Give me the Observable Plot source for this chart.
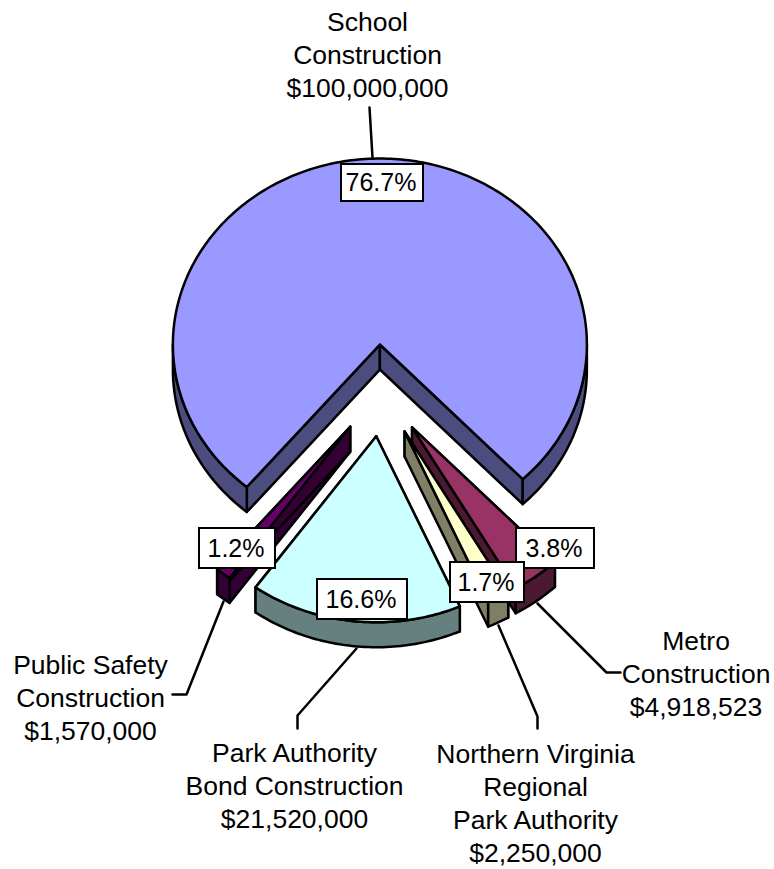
<!DOCTYPE html>
<html>
<head>
<meta charset="utf-8">
<script src="https://cdn.jsdelivr.net/npm/d3@7"></script>
<script src="https://cdn.jsdelivr.net/npm/@observablehq/plot@0.6"></script>
<style>html,body{margin:0;padding:0;background:#fff}svg{display:block}</style>
</head>
<body>
<div id="chart"></div>
<script>
// Data
const categories = ["School Construction", "Metro Construction", "Northern Virginia Regional Park Authority", "Park Authority Bond Construction", "Public Safety Construction"];
const amounts = [100000000, 4918523, 2250000, 21520000, 1570000];
const percentLabels = ["76.7%", "3.8%", "1.7%", "16.6%", "1.2%"];
const nameLabels = ["School\nConstruction\n$100,000,000", "Metro\nConstruction\n$4,918,523", "Northern Virginia\nRegional\nPark Authority\n$2,250,000", "Park Authority\nBond Construction\n$21,520,000", "Public Safety\nConstruction\n$1,570,000"];

// Styles
const topColors = ["#9999FF", "#993366", "#FFFFCC", "#CCFFFF", "#660066"];
const sideColors = ["#4C4C7F", "#4C1933", "#7F7F66", "#667F7F", "#330033"];
const font = "Liberation Sans, Arial, sans-serif";

// Projection of the tilted, exploded pie
const W = 774, H = 869;
const center = {x: 381, y: 390}, rx = 207, ry = 186, depth = 25, explodeX = 51, explodeY = 46;
const firstAngle = 220;

const rad = d => d * Math.PI / 180;
const arcs = d3.pie().sort(null).startAngle(rad(firstAngle)).endAngle(rad(firstAngle + 360))(amounts);

const slices = arcs.map((a, i) => {
  const a0 = a.startAngle * 180 / Math.PI, a1 = a.endAngle * 180 / Math.PI, mid = (a0 + a1) / 2;
  const apex = {x: center.x + explodeX * Math.sin(rad(mid)), y: center.y - explodeY * Math.cos(rad(mid))};
  const pt = t => ({x: apex.x + rx * Math.sin(rad(t)), y: apex.y - ry * Math.cos(rad(t))});
  const down = p => ({x: p.x, y: p.y + depth});
  const sweep = (s, e) => { const out = []; for (let t = s; t < e; t += 1) out.push(pt(t)); out.push(pt(e)); return out; };
  const closed = ps => [...ps, ps[0]];
  const polys = [];
  const side = sideColors[i], top = topColors[i];
  // radial faces
  [a0, a1].forEach(t => polys.push({pts: closed([apex, pt(t), down(pt(t)), down(apex)]), fill: side}));
  // front of the rim
  [[90, 270], [450, 630]].forEach(([lo, hi]) => {
    const s = Math.max(a0, lo), e = Math.min(a1, hi);
    if (e > s) { const rim = sweep(s, e); polys.push({pts: closed([...rim, ...rim.slice().reverse().map(down)]), fill: side}); }
  });
  // top face
  polys.push({pts: closed([apex, ...sweep(a0, a1)]), fill: top});
  return polys;
});

// Back-to-front order
const drawOrder = [0, 1, 2, 4, 3];
const sliceMarks = drawOrder.flatMap(i => slices[i].map(p =>
  Plot.line(p.pts, {x: "x", y: "y", fill: p.fill, stroke: "#000", strokeWidth: 2.5, strokeLinejoin: "round"})));

// Annotation layout
const leaders = [
  [[369, 107], [372, 157]],
  [[537, 603], [606, 672], [620, 672]],
  [[498, 625], [537, 716], [537, 728]],
  [[356, 648], [297, 715], [297, 728]],
  [[223, 601], [186, 694], [172, 694]]
];
const boxes = [
  [341, 164, 423, 201],
  [516, 528, 594, 568],
  [450, 562, 524, 602],
  [317, 579, 407, 619],
  [199, 528, 275, 568]
];
const nameAnchors = [[367, 52.5], [695.5, 671.5], [535, 801.5], [294, 783.5], [90, 695.5]];

const leaderMarks = leaders.map(l => Plot.line(l, {x: d => d[0], y: d => d[1], stroke: "#000", strokeWidth: 2.5}));
const boxData = boxes.map((b, i) => ({x1: b[0], y1: b[1], x2: b[2], y2: b[3], label: percentLabels[i]}));
const nameData = nameAnchors.map((p, i) => ({x: p[0], y: p[1], label: nameLabels[i]}));

const chart = Plot.plot({
  width: W, height: H, margin: 0,
  x: {axis: null, domain: [0, W], range: [0, W]},
  y: {axis: null, domain: [0, H], range: [0, H]},
  style: {background: "#fff"},
  marks: [
    ...sliceMarks,
    ...leaderMarks,
    Plot.rect(boxData, {x1: "x1", x2: "x2", y1: "y1", y2: "y2", fill: "#fff", stroke: "#000", strokeWidth: 2}),
    Plot.text(boxData, {x: d => (d.x1 + d.x2) / 2 - 1.5, y: d => (d.y1 + d.y2) / 2, text: "label", fontSize: 25, fontFamily: font, fill: "#000"}),
    Plot.text(nameData, {x: "x", y: "y", text: "label", fontSize: 26.5, lineHeight: 1.245, fontFamily: font, fill: "#000"})
  ]
});
document.getElementById("chart").appendChild(chart);
</script>
</body>
</html>
